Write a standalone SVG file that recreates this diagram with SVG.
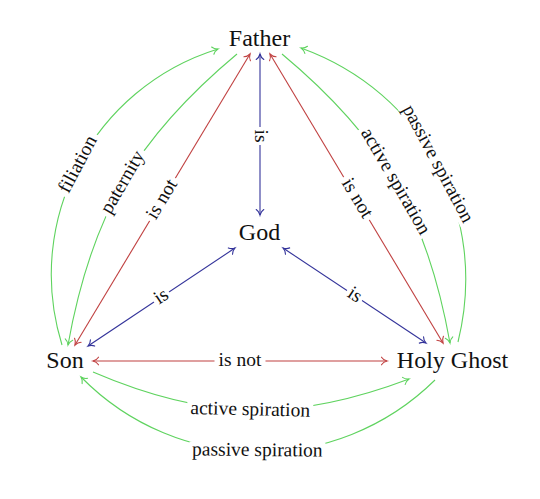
<svg xmlns="http://www.w3.org/2000/svg" width="540" height="499" viewBox="0 0 540 499">
<style>
.node{font-family:"Liberation Serif","Times New Roman",serif;font-size:24px;fill:#111;text-anchor:middle}
.lbl{font-family:"Liberation Serif","Times New Roman",serif;font-size:19.5px;fill:#111;text-anchor:middle}
.bg{fill:#fff;stroke:none}
.g{stroke:#5fd35f;stroke-width:1.1;fill:none}
.r{stroke:#c04040;stroke-width:1.1;fill:none}
.b{stroke:#33339a;stroke-width:1.1;fill:none}
.g.e{marker-end:url(#ag)}
.r.bi{marker-start:url(#ar);marker-end:url(#ar)}
.b.bi{marker-start:url(#ab);marker-end:url(#ab)}
</style>
<defs>
<marker id="ag" markerUnits="userSpaceOnUse" markerWidth="12" markerHeight="12" refX="0" refY="0" orient="auto-start-reverse" overflow="visible">
<path d="M-5.5,-3.8 C-4,-1.5 -1.5,-0.4 0,0 C-1.5,0.4 -4,1.5 -5.5,3.8" fill="none" stroke="#5fd35f" stroke-width="1.1" stroke-linecap="round"/>
</marker>
<marker id="ar" markerUnits="userSpaceOnUse" markerWidth="12" markerHeight="12" refX="0" refY="0" orient="auto-start-reverse" overflow="visible">
<path d="M-5.5,-3.8 C-4,-1.5 -1.5,-0.4 0,0 C-1.5,0.4 -4,1.5 -5.5,3.8" fill="none" stroke="#c04040" stroke-width="1.1" stroke-linecap="round"/>
</marker>
<marker id="ab" markerUnits="userSpaceOnUse" markerWidth="12" markerHeight="12" refX="0" refY="0" orient="auto-start-reverse" overflow="visible">
<path d="M-5.5,-3.8 C-4,-1.5 -1.5,-0.4 0,0 C-1.5,0.4 -4,1.5 -5.5,3.8" fill="none" stroke="#33339a" stroke-width="1.1" stroke-linecap="round"/>
</marker>
</defs>
<rect width="540" height="499" fill="#fff"/>
<g id="connectors">
  <!-- blue: is -->
  <path class="b bi" d="M260,54 L260,215"/>
  <path class="b bi" d="M88,346 L235,248"/>
  <path class="b bi" d="M283,248 L426,343"/>
  <!-- red: is not -->
  <path class="r bi" d="M250,54 L75,345"/>
  <path class="r bi" d="M270,54 L443,343"/>
  <path class="r bi" d="M93,361 L387,361"/>
  <!-- green -->
  <path class="g e" d="M62,345 C23.2,219.9 92.9,87.8 218,49"/>
  <path class="g e" d="M237,54 C135.9,138.4 91.2,215.3 68,345"/>
  <path class="g e" d="M282,54 C382.5,137.8 426.9,214.2 450,343"/>
  <path class="g e" d="M458,342 C489.3,215.3 423.7,92.4 301,48"/>
  <path class="g e" d="M93,372 C206.7,420.9 293.2,422.8 409,379"/>
  <path class="g e" d="M435,380 C336.2,477.2 178.2,475.8 81,377"/>
  <!-- labels -->
  <g transform="translate(260,136) rotate(90)"><rect class="bg" x="-9" y="-8" width="18" height="16"/><text class="lbl" y="5">is</text></g>
  <g transform="translate(161.5,297) rotate(-33.9)"><rect class="bg" x="-9" y="-8" width="18" height="16"/><text class="lbl" y="5">is</text></g>
  <g transform="translate(354.5,295.5) rotate(33.6)"><rect class="bg" x="-9" y="-8" width="18" height="16"/><text class="lbl" y="5">is</text></g>
  <g transform="translate(162.5,199.5) rotate(-59)"><rect class="bg" x="-25" y="-8.5" width="50" height="17"/><text class="lbl" y="5">is not</text></g>
  <g transform="translate(356.5,198.5) rotate(59.1)"><rect class="bg" x="-25" y="-8.5" width="50" height="17"/><text class="lbl" y="5">is not</text></g>
  <g transform="translate(240,361)"><rect class="bg" x="-25.5" y="-8.5" width="51" height="17"/><text class="lbl" y="5">is not</text></g>
  <g transform="translate(78.5,164.6) rotate(-62.2)"><rect class="bg" x="-35" y="-9" width="70" height="18"/><text class="lbl" y="5">filiation</text></g>
  <g transform="translate(123.3,182.5) rotate(-59.9)"><rect class="bg" x="-38" y="-9" width="76" height="18"/><text class="lbl" y="5">paternity</text></g>
  <g transform="translate(395,181.6) rotate(59.8)"><rect class="bg" x="-63" y="-9" width="126" height="18"/><text class="lbl" y="5">active spiration</text></g>
  <g transform="translate(437.3,164.1) rotate(61.9)"><rect class="bg" x="-68" y="-9" width="136" height="18"/><text class="lbl" y="5">passive spiration</text></g>
  <g transform="translate(250.2,410.3) rotate(1.3)"><rect class="bg" x="-63" y="-9" width="126" height="18"/><text class="lbl" y="5">active spiration</text></g>
  <g transform="translate(257.4,451) rotate(0.5)"><rect class="bg" x="-68" y="-9" width="136" height="18"/><text class="lbl" y="5">passive spiration</text></g>
</g>
<g id="father"><text class="node" x="259.5" y="46">Father</text></g>
<g id="god"><text class="node" x="259.5" y="240">God</text></g>
<g id="son"><text class="node" x="65" y="368">Son</text></g>
<g id="holy-ghost"><text class="node" x="452.5" y="368">Holy Ghost</text></g>
</svg>
